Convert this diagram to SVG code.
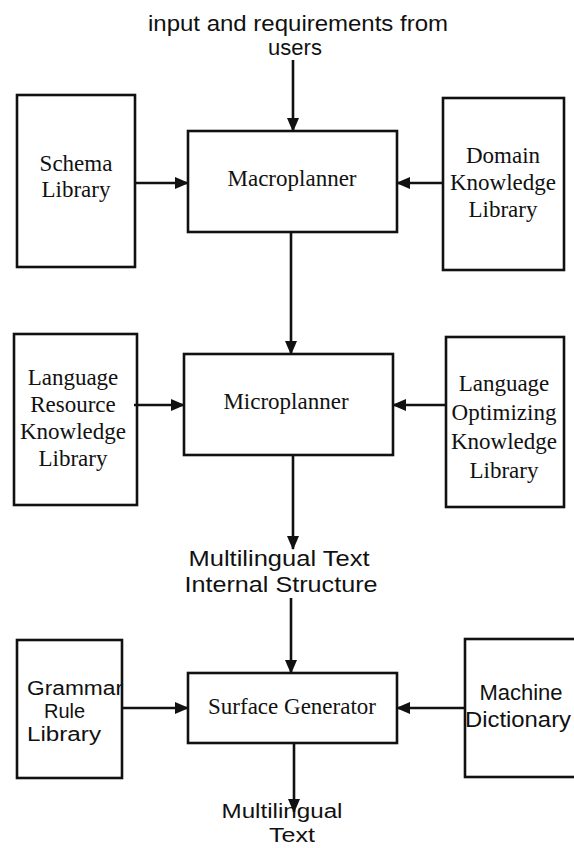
<svg xmlns="http://www.w3.org/2000/svg" width="574" height="848" viewBox="0 0 574 848">
<style>
.box{fill:#fff;stroke:#111;stroke-width:2.6}
.serif{font-family:"Liberation Serif","Times New Roman",serif;font-size:23px;fill:#111;text-anchor:middle}
.sans{font-family:"Liberation Sans",Arial,sans-serif;font-size:22px;fill:#111;text-anchor:middle}
.sanss{font-family:"Liberation Sans",Arial,sans-serif;font-size:20px;fill:#111;text-anchor:middle}
.sansl{font-family:"Liberation Sans",Arial,sans-serif;font-size:20px;fill:#111}
.conn{stroke:#111;stroke-width:2.6;fill:none;marker-end:url(#ah)}
</style>
<defs>
<marker id="ah" markerUnits="userSpaceOnUse" markerWidth="14" markerHeight="12" refX="13" refY="6" orient="auto">
<path d="M0,0 L14,6 L0,12 z" fill="#111"/>
</marker>
</defs>
<rect width="574" height="848" fill="#fff"/>

<g id="label-input">
<text class="sans" x="298" y="31" textLength="300" lengthAdjust="spacingAndGlyphs">input and requirements from</text>
<text class="sans" x="295" y="55">users</text>
</g>

<g id="schema-library">
<rect class="box" x="17" y="95" width="118" height="172"/>
<text class="serif" x="76" y="171">Schema</text>
<text class="serif" x="76" y="197">Library</text>
</g>

<g id="macroplanner">
<rect class="box" x="188" y="131" width="209" height="101"/>
<text class="serif" x="292" y="186">Macroplanner</text>
</g>

<g id="domain-knowledge-library">
<rect class="box" x="443" y="98" width="121" height="172"/>
<text class="serif" x="503" y="163">Domain</text>
<text class="serif" x="503" y="190">Knowledge</text>
<text class="serif" x="503" y="217">Library</text>
</g>

<g id="language-resource-knowledge-library">
<rect class="box" x="14" y="334" width="123" height="171"/>
<text class="serif" x="73" y="385">Language</text>
<text class="serif" x="73" y="412">Resource</text>
<text class="serif" x="73" y="439">Knowledge</text>
<text class="serif" x="73" y="466">Library</text>
</g>

<g id="microplanner">
<rect class="box" x="184" y="354" width="209" height="101"/>
<text class="serif" x="286" y="409">Microplanner</text>
</g>

<g id="language-optimizing-knowledge-library">
<rect class="box" x="446" y="337" width="118" height="170"/>
<text class="serif" x="504" y="391">Language</text>
<text class="serif" x="504" y="420">Optimizing</text>
<text class="serif" x="504" y="449">Knowledge</text>
<text class="serif" x="504" y="478">Library</text>
</g>

<g id="label-internal-structure">
<text class="sans" x="279" y="566" textLength="181" lengthAdjust="spacingAndGlyphs">Multilingual Text</text>
<text class="sans" x="281" y="592" textLength="193" lengthAdjust="spacingAndGlyphs">Internal Structure</text>
</g>

<g id="grammar-rule-library">
<rect class="box" x="17" y="640" width="105" height="138"/>
<text class="sansl" x="27" y="695" textLength="96" lengthAdjust="spacingAndGlyphs">Grammar</text>
<text class="sansl" x="44" y="718">Rule</text>
<text class="sansl" x="27" y="741" textLength="74" lengthAdjust="spacingAndGlyphs">Library</text>
</g>

<g id="surface-generator">
<rect class="box" x="188" y="673" width="209" height="70"/>
<text class="serif" x="292" y="714">Surface Generator</text>
</g>

<g id="machine-dictionary">
<rect class="box" x="465" y="639" width="112" height="138"/>
<text class="sans" x="521" y="700">Machine</text>
<text class="sans" x="518" y="727" textLength="106" lengthAdjust="spacingAndGlyphs">Dictionary</text>
</g>

<g id="label-output">
<text class="sanss" x="282" y="818" textLength="121" lengthAdjust="spacingAndGlyphs">Multilingual</text>
<text class="sanss" x="292" y="842" textLength="46" lengthAdjust="spacingAndGlyphs">Text</text>
</g>

<g id="connectors">
<line class="conn" x1="293" y1="60" x2="293" y2="131"/>
<line class="conn" x1="135" y1="183" x2="188" y2="183"/>
<line class="conn" x1="443" y1="183" x2="397" y2="183"/>
<line class="conn" x1="291" y1="232" x2="291" y2="354"/>
<line class="conn" x1="134" y1="405" x2="184" y2="405"/>
<line class="conn" x1="446" y1="405" x2="393" y2="405"/>
<line class="conn" x1="293" y1="455" x2="293" y2="549"/>
<line class="conn" x1="291" y1="598" x2="291" y2="673"/>
<line class="conn" x1="122" y1="708" x2="188" y2="708"/>
<line class="conn" x1="465" y1="708" x2="397" y2="708"/>
<line class="conn" x1="294" y1="743" x2="294" y2="812"/>
</g>
</svg>
